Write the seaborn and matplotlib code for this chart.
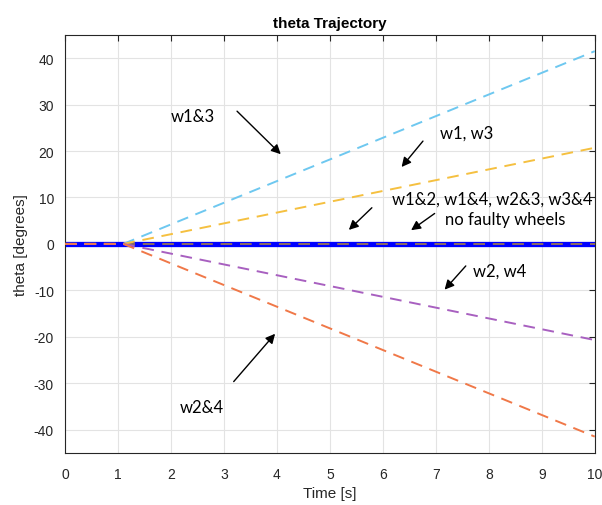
import matplotlib
matplotlib.use("Agg")
import matplotlib.pyplot as plt
import seaborn as sns
import pandas as pd

time_pts = [0.0, 1.1, 10.0]
theta_w13 = [0.0, 0.0, 41.5]
theta_w1_w3 = [0.0, 0.0, 20.7]
theta_pairs = [0.0, 0.0, 0.0]
theta_w2_w4 = [0.0, 0.0, -20.7]
theta_w24 = [0.0, 0.0, -41.5]
theta_none = [0.0, 0.0, 0.0]

x_ticks = [0, 1, 2, 3, 4, 5, 6, 7, 8, 9, 10]
y_ticks = [-40, -30, -20, -10, 0, 10, 20, 30, 40]

sns.set_style("white")
plt.rcParams['font.family'] = ['Liberation Sans', 'DejaVu Sans']
plt.rcParams['axes.unicode_minus'] = False

fig = plt.figure(figsize=(6.02, 5.06), dpi=100)
ax = fig.add_axes([0.108, 0.103, 0.880, 0.826])

# solid blue baseline (no faulty wheels)
sns.lineplot(x=time_pts, y=theta_none, ax=ax, color='#0000ff', linewidth=3.8, zorder=2)

dashed = [
    (theta_pairs, '#8c6a62'),
    (theta_w13, '#6ec8f0'),
    (theta_w1_w3, '#f5c040'),
    (theta_w2_w4, '#a860c0'),
    (theta_w24, '#f07848'),
]
for vals, col in dashed:
    sns.lineplot(x=time_pts, y=vals, ax=ax, color=col, linewidth=1.4,
                 linestyle=(0, (6, 4)), zorder=3)

ax.set_xlim(0, 10)
ax.set_ylim(-45, 45)
ax.set_xticks(x_ticks)
ax.set_yticks(y_ticks)
ax.grid(True, color='#e3e3e3', linewidth=0.8)
ax.set_axisbelow(True)
for s in ax.spines.values():
    s.set_color('#262626')
    s.set_linewidth(0.8)
ax.tick_params(direction='in', length=4, width=0.8, colors='#262626',
               labelsize=10, top=True, right=True, labelcolor='#262626', pad=8)
ax.tick_params(axis='x', pad=10)
ax.set_xlabel('Time [s]', fontsize=11, color='#262626', labelpad=4)
ax.set_ylabel('theta [degrees]', fontsize=11, color='#262626', labelpad=4)
ax.set_title('theta Trajectory', fontsize=11, fontweight='bold', color='#000000', pad=6)

afont = dict(family=['Lato', 'DejaVu Sans'], fontsize=12, color='black')
arrow = dict(arrowstyle='-|>', color='black', lw=1.0, mutation_scale=14)

ax.text(2.0, 27.5, 'w1&3', ha='left', va='center', **afont)
ax.annotate('', xy=(4.11, 18.9), xytext=(3.21, 29.0), arrowprops=arrow)
ax.text(7.08, 23.9, 'w1, w3', ha='left', va='center', **afont)
ax.annotate('', xy=(6.32, 16.1), xytext=(6.79, 22.6), arrowprops=arrow)
ax.text(8.06, 9.7, 'w1&2, w1&4, w2&3, w3&4', ha='center', va='center', **afont)
ax.text(8.3, 5.4, 'no faulty wheels', ha='center', va='center', **afont)
ax.annotate('', xy=(5.32, 2.6), xytext=(5.83, 8.2), arrowprops=arrow)
ax.annotate('', xy=(6.49, 2.6), xytext=(7.02, 6.9), arrowprops=arrow)
ax.text(8.2, -5.8, 'w2, w4', ha='center', va='center', **afont)
ax.annotate('', xy=(7.13, -10.3), xytext=(7.6, -4.3), arrowprops=arrow)
ax.text(2.58, -35.1, 'w2&4', ha='center', va='center', **afont)
ax.annotate('', xy=(4.0, -18.9), xytext=(3.15, -30.1), arrowprops=arrow)

fig.savefig('out.png', dpi=100)
